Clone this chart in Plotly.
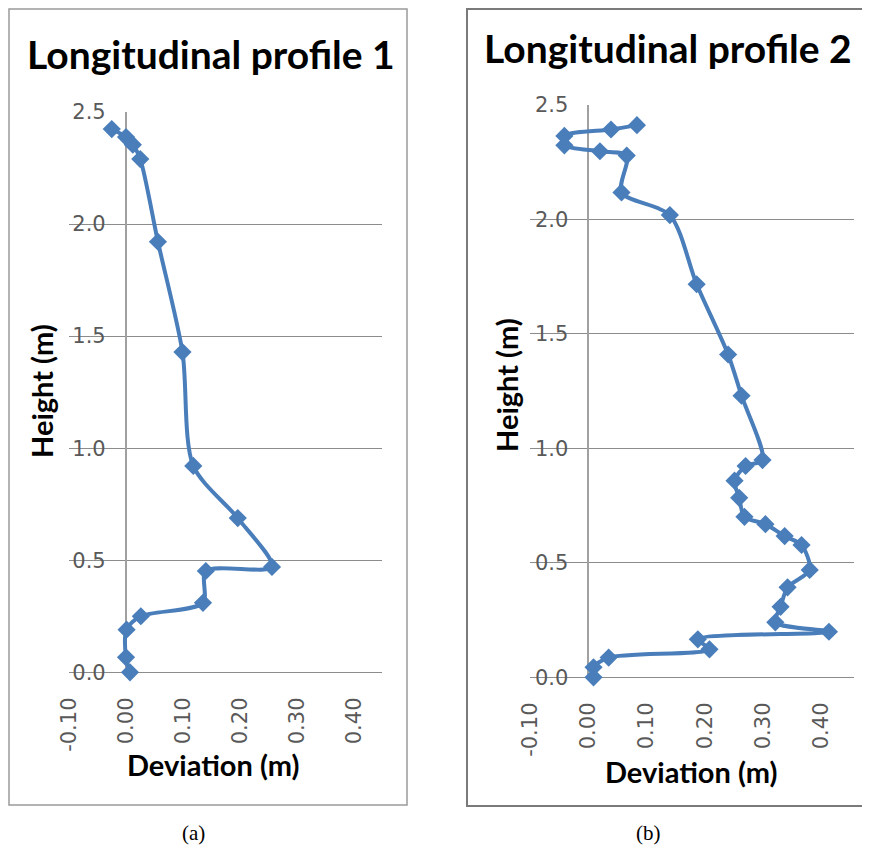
import plotly.graph_objects as go

# Panel (a): Longitudinal profile 1
dev_a = [0.007, 0.000, 0.001, 0.026, 0.135, 0.140, 0.256, 0.196, 0.118, 0.099, 0.056, 0.025, 0.012, 0.000, -0.025]
hgt_a = [0.000, 0.067, 0.190, 0.250, 0.310, 0.452, 0.470, 0.688, 0.921, 1.429, 1.921, 2.290, 2.354, 2.388, 2.424]

# Panel (b): Longitudinal profile 2
dev_b = [0.009, 0.009, 0.035, 0.208, 0.188, 0.413, 0.321, 0.330, 0.342, 0.380, 0.366, 0.337, 0.304, 0.268,
         0.259, 0.251, 0.270, 0.299, 0.263, 0.240, 0.186, 0.140, 0.057, 0.066, 0.020, -0.041, -0.041, 0.039, 0.0835]
hgt_b = [0.000, 0.044, 0.086, 0.122, 0.166, 0.199, 0.240, 0.308, 0.393, 0.469, 0.578, 0.617, 0.669, 0.701,
         0.784, 0.859, 0.923, 0.949, 1.230, 1.410, 1.717, 2.019, 2.118, 2.279, 2.298, 2.324, 2.365, 2.393, 2.412]

x_ticks = [-0.10, 0.00, 0.10, 0.20, 0.30, 0.40]
x_tick_text = ["-0.10", "0.00", "0.10", "0.20", "0.30", "0.40"]
y_ticks = [0.0, 0.5, 1.0, 1.5, 2.0, 2.5]
y_tick_text = ["0.0", "0.5", "1.0", "1.5", "2.0", "2.5"]

titles = ["Longitudinal profile 1", "Longitudinal profile 2"]
x_title = "Deviation (m)"
y_title = "Height (m)"
captions = ["(a)", "(b)"]

# page is 870x856; the body keeps its default 8px margin, so the figure is 16px smaller
PAGE_OFF = 8
W, H = 870 - 2 * PAGE_OFF, 856 - 2 * PAGE_OFF
BLUE = "#4A7EBB"
GRID = "#8c8c8c"
TICKC = "#595959"


def px(x):
    return (x - PAGE_OFF) / W


def py(y):
    return 1 - (y - PAGE_OFF) / H


fig = go.Figure()

fig.add_trace(go.Scatter(x=dev_a, y=hgt_a, mode="lines+markers", xaxis="x", yaxis="y",
                         line=dict(color=BLUE, width=4, shape="spline", smoothing=0.8),
                         marker=dict(symbol="diamond", size=14, color=BLUE),
                         cliponaxis=False, showlegend=False))
fig.add_trace(go.Scatter(x=dev_b, y=hgt_b, mode="lines+markers", xaxis="x2", yaxis="y2",
                         line=dict(color=BLUE, width=4, shape="spline", smoothing=0.8),
                         marker=dict(symbol="diamond", size=14, color=BLUE),
                         cliponaxis=False, showlegend=False))

tickfont = dict(family="DejaVu Sans", size=21, color=TICKC)

common_x = dict(tickvals=x_ticks, ticktext=x_tick_text, tickangle=-90, showgrid=False,
                zeroline=True, zerolinecolor="#a0a0a0", zerolinewidth=1.5, showline=False,
                ticks="", tickfont=tickfont, ticklabelstandoff=20, fixedrange=True)
common_y = dict(tickvals=y_ticks, ticktext=y_tick_text, range=[0, 2.5], showgrid=True,
                gridcolor=GRID, gridwidth=1, zeroline=True, zerolinecolor=GRID, zerolinewidth=1,
                showline=False, ticks="", tickfont=tickfont, anchor="free",
                ticklabelstandoff=20, fixedrange=True)

fig.update_layout(
    width=W, height=H,
    margin=dict(l=0, r=0, t=0, b=0, autoexpand=False),
    paper_bgcolor="white", plot_bgcolor="white",
    xaxis=dict(domain=[px(69), px(382)], range=[-0.1, 0.449], anchor="y", **common_x),
    yaxis=dict(domain=[py(672.3), py(112)], position=px(125.7), **common_y),
    xaxis2=dict(domain=[px(530), px(854)], range=[-0.1, 0.456], anchor="y2", **common_x),
    yaxis2=dict(domain=[py(677.3), py(105)], position=px(588.3), **common_y),
)

# Panel borders
fig.add_shape(type="rect", xref="paper", yref="paper", x0=px(9), x1=px(407), y0=py(805), y1=py(9),
              line=dict(color="#9a9a9a", width=1.5), layer="below")
fig.add_shape(type="rect", xref="paper", yref="paper", x0=px(467), x1=px(880), y0=py(806), y1=py(9),
              line=dict(color="#7a7a7a", width=2), layer="below")

title_font = dict(family="Lato", size=39, color="black")
axis_font = dict(family="Lato", size=29, color="black")

fig.add_annotation(text="<b>" + titles[0] + "</b>", x=px(211), y=py(54), xref="paper", yref="paper",
                   showarrow=False, font=title_font, xanchor="center", yanchor="middle")
fig.add_annotation(text="<b>" + titles[1] + "</b>", x=px(668), y=py(48), xref="paper", yref="paper",
                   showarrow=False, font=title_font, xanchor="center", yanchor="middle")

fig.add_annotation(text="<b>" + x_title + "</b>", x=px(213), y=py(764), xref="paper", yref="paper",
                   showarrow=False, font=axis_font, xanchor="center", yanchor="middle")
fig.add_annotation(text="<b>" + x_title + "</b>", x=px(691), y=py(771), xref="paper", yref="paper",
                   showarrow=False, font=axis_font, xanchor="center", yanchor="middle")

fig.add_annotation(text="<b>" + y_title + "</b>", x=px(42), y=py(391), xref="paper", yref="paper",
                   showarrow=False, font=axis_font, textangle=-90, xanchor="center", yanchor="middle")
fig.add_annotation(text="<b>" + y_title + "</b>", x=px(507), y=py(385), xref="paper", yref="paper",
                   showarrow=False, font=axis_font, textangle=-90, xanchor="center", yanchor="middle")

cap_font = dict(family="Liberation Serif", size=21, color="black")
fig.add_annotation(text=captions[0], x=px(193), y=py(833), xref="paper", yref="paper",
                   showarrow=False, font=cap_font, xanchor="center", yanchor="middle")
fig.add_annotation(text=captions[1], x=px(648), y=py(833), xref="paper", yref="paper",
                   showarrow=False, font=cap_font, xanchor="center", yanchor="middle")

fig.write_html("out.html", config={"displayModeBar": False})
